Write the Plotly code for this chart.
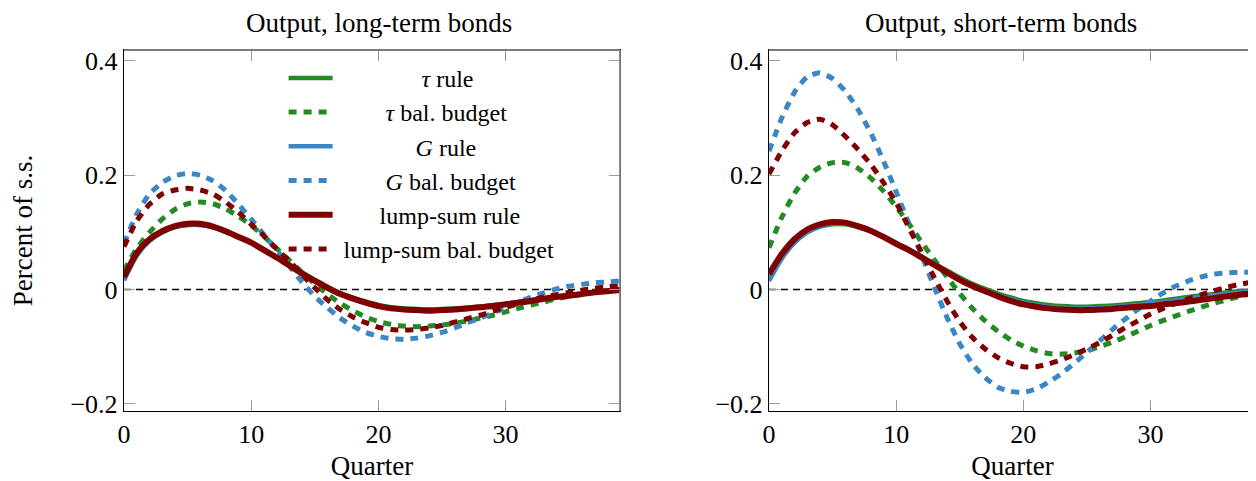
import plotly.graph_objects as go
from plotly.subplots import make_subplots

quarters = list(range(40))

series_names = ["<i>τ</i> rule", "<i>τ</i> bal. budget", "<i>G</i> rule",
                "<i>G</i> bal. budget", "lump-sum rule", "lump-sum bal. budget"]

# ---- Output, long-term bonds ----
lt_tau_rule = [0.018,0.060,0.085,0.100,0.109,0.113,0.113,0.109,0.101,0.092,0.082,0.070,0.057,0.044,0.030,0.017,0.005,-0.006,-0.014,-0.021,
               -0.027,-0.031,-0.033,-0.034,-0.035,-0.034,-0.033,-0.032,-0.030,-0.028,-0.025,-0.022,-0.019,-0.016,-0.013,-0.010,-0.007,-0.005,-0.002,0.000]
lt_tau_bb = [0.033,0.072,0.100,0.123,0.140,0.150,0.153,0.150,0.141,0.128,0.112,0.093,0.072,0.051,0.030,0.010,-0.008,-0.024,-0.037,-0.048,
             -0.056,-0.061,-0.064,-0.065,-0.064,-0.062,-0.059,-0.055,-0.050,-0.045,-0.039,-0.033,-0.027,-0.022,-0.016,-0.012,-0.008,-0.004,-0.002,0.000]
lt_g_rule = [0.016,0.059,0.085,0.100,0.109,0.113,0.113,0.109,0.101,0.092,0.082,0.070,0.057,0.043,0.029,0.016,0.004,-0.007,-0.015,-0.022,
             -0.028,-0.032,-0.034,-0.035,-0.036,-0.035,-0.034,-0.032,-0.030,-0.028,-0.025,-0.022,-0.019,-0.016,-0.013,-0.010,-0.007,-0.005,-0.003,-0.001]
lt_g_bb = [0.080,0.132,0.167,0.187,0.199,0.203,0.200,0.190,0.173,0.149,0.123,0.096,0.069,0.041,0.013,-0.012,-0.032,-0.050,-0.064,-0.075,
           -0.082,-0.086,-0.087,-0.085,-0.081,-0.075,-0.067,-0.058,-0.050,-0.041,-0.032,-0.022,-0.013,-0.006,0.001,0.006,0.009,0.012,0.013,0.015]
lt_ls_rule = [0.022,0.064,0.088,0.102,0.111,0.115,0.115,0.110,0.102,0.092,0.082,0.069,0.056,0.042,0.028,0.015,0.003,-0.008,-0.016,-0.023,
              -0.029,-0.033,-0.035,-0.036,-0.037,-0.036,-0.035,-0.033,-0.031,-0.029,-0.026,-0.023,-0.020,-0.016,-0.013,-0.011,-0.008,-0.005,-0.003,-0.001]
lt_ls_bb = [0.075,0.120,0.149,0.167,0.174,0.177,0.174,0.167,0.153,0.135,0.114,0.094,0.071,0.050,0.026,0.003,-0.018,-0.035,-0.048,-0.058,
            -0.066,-0.070,-0.071,-0.070,-0.067,-0.063,-0.057,-0.051,-0.045,-0.038,-0.031,-0.025,-0.019,-0.013,-0.009,-0.005,-0.001,0.002,0.005,0.006]

# ---- Output, short-term bonds ----
st_tau_rule = [0.018,0.055,0.082,0.100,0.110,0.114,0.114,0.109,0.102,0.092,0.081,0.070,0.058,0.045,0.033,0.021,0.010,0.001,-0.007,-0.014,
               -0.020,-0.024,-0.027,-0.029,-0.030,-0.030,-0.029,-0.028,-0.026,-0.024,-0.022,-0.019,-0.016,-0.013,-0.010,-0.008,-0.005,-0.003,-0.001,0.001]
st_tau_bb = [0.073,0.126,0.168,0.198,0.214,0.222,0.222,0.212,0.195,0.172,0.145,0.115,0.083,0.052,0.022,-0.007,-0.033,-0.055,-0.073,-0.088,
             -0.099,-0.107,-0.112,-0.113,-0.111,-0.107,-0.100,-0.092,-0.083,-0.073,-0.063,-0.054,-0.046,-0.038,-0.031,-0.024,-0.018,-0.012,-0.007,-0.003]
st_g_rule = [0.015,0.054,0.082,0.100,0.110,0.115,0.115,0.110,0.103,0.093,0.082,0.070,0.058,0.045,0.032,0.019,0.008,-0.002,-0.010,-0.017,
             -0.023,-0.027,-0.030,-0.032,-0.033,-0.033,-0.032,-0.031,-0.029,-0.027,-0.025,-0.022,-0.019,-0.016,-0.013,-0.010,-0.008,-0.005,-0.003,-0.002]
st_g_bb = [0.242,0.300,0.345,0.372,0.379,0.369,0.347,0.315,0.274,0.225,0.171,0.115,0.060,0.004,-0.049,-0.095,-0.130,-0.154,-0.171,-0.178,
           -0.180,-0.174,-0.162,-0.147,-0.129,-0.110,-0.090,-0.070,-0.052,-0.035,-0.020,-0.006,0.006,0.015,0.022,0.027,0.029,0.030,0.030,0.029]
st_ls_rule = [0.027,0.062,0.088,0.105,0.114,0.118,0.117,0.111,0.103,0.092,0.080,0.069,0.056,0.043,0.030,0.017,0.006,-0.003,-0.012,-0.020,
              -0.026,-0.030,-0.033,-0.035,-0.036,-0.036,-0.035,-0.034,-0.032,-0.030,-0.029,-0.026,-0.024,-0.021,-0.018,-0.015,-0.012,-0.009,-0.007,-0.005]
st_ls_bb = [0.202,0.242,0.274,0.292,0.298,0.288,0.268,0.245,0.219,0.187,0.152,0.108,0.065,0.021,-0.020,-0.056,-0.084,-0.104,-0.119,-0.129,
            -0.135,-0.135,-0.130,-0.123,-0.114,-0.104,-0.093,-0.080,-0.067,-0.055,-0.043,-0.033,-0.024,-0.016,-0.009,-0.002,0.004,0.009,0.013,0.016]

panel_titles = ["Output, long-term bonds", "Output, short-term bonds"]
x_title = "Quarter"
y_title = "Percent of s.s."
y_tickvals = [-0.2, 0, 0.2, 0.4]
y_ticktext = ["\u22120.2", "0", "0.2", "0.4"]
x_tickvals = [0, 10, 20, 30]

GREEN = "#238b23"
BLUE = "#3b87c6"
RED = "#800000"
colors = [GREEN, GREEN, BLUE, BLUE, RED, RED]
dashed = [False, True, False, True, False, True]
widths = [4.5, 5.0, 4.5, 5.0, 6.0, 5.0]
# centering pads for legend text (non-breaking spaces)
pads = [14, 8, 13, 8, 7, 1]

long_term = [lt_tau_rule, lt_tau_bb, lt_g_rule, lt_g_bb, lt_ls_rule, lt_ls_bb]
short_term = [st_tau_rule, st_tau_bb, st_g_rule, st_g_bb, st_ls_rule, st_ls_bb]

FONT = "Liberation Serif"

fig = make_subplots(rows=1, cols=2, subplot_titles=panel_titles)

for col, panel in ((1, long_term), (2, short_term)):
    for i, ys in enumerate(panel):
        fig.add_trace(go.Scatter(
            x=quarters, y=ys, mode="lines",
            name="\u00a0" * pads[i] + series_names[i],
            legendgroup=f"g{i}", showlegend=(col == 1),
            line=dict(color=colors[i], width=widths[i],
                      dash="8px,7px" if dashed[i] else "solid",
                      shape="spline", smoothing=0.6),
        ), row=1, col=col)
    fig.add_hline(y=0, line=dict(color="black", width=1.4, dash="7px,5px"),
                  layer="below", row=1, col=col)

axis_common = dict(showline=True, linecolor="black", linewidth=1.4,
                   ticks="inside", ticklen=11, tickwidth=1.4, tickcolor="#9a9a9a",
                   showgrid=False, zeroline=False,
                   tickfont=dict(family=FONT, size=26, color="black"))

fig.update_xaxes(**axis_common, tickvals=x_tickvals, mirror="ticks",
                 title=dict(text=x_title, font=dict(family=FONT, size=27), standoff=12))
fig.update_yaxes(**axis_common, tickvals=y_tickvals, ticktext=y_ticktext,
                 range=[-0.2125, 0.419])

fig.update_layout(
    width=1248, height=473,
    margin=dict(l=116, r=0, t=42, b=70),
    paper_bgcolor="white", plot_bgcolor="white",
    font=dict(family=FONT, size=24, color="black"),
    xaxis=dict(domain=[0, 0.4382], range=[0, 39]),
    xaxis2=dict(domain=[0.5698, 1.0], range=[0, 38.3]),
    yaxis=dict(mirror="ticks",
               title=dict(text=y_title, font=dict(family=FONT, size=27), standoff=33)),
    yaxis2=dict(mirror=False),
    showlegend=True,
    legend=dict(x=0.141, y=0.984, xanchor="left", yanchor="top",
                bgcolor="rgba(255,255,255,0)", borderwidth=0,
                font=dict(family=FONT, size=24, color="black"),
                itemwidth=44, tracegroupgap=0, traceorder="grouped"),
)

# frame: gray top/right borders like the reference
for xr, yr, right in (("x", "y", True), ("x2", "y2", False)):
    fig.add_shape(type="line", xref=f"{xr} domain", yref=f"{yr} domain",
                  x0=0, x1=1, y0=1, y1=1, line=dict(color="#7a7a7a", width=1.8), layer="above")
    if right:
        fig.add_shape(type="line", xref=f"{xr} domain", yref=f"{yr} domain",
                      x0=1, x1=1, y0=0, y1=1, line=dict(color="#7a7a7a", width=1.8), layer="above")

for ann in fig.layout.annotations:
    ann.font = dict(family=FONT, size=27, color="black")
    ann.yshift = 10

fig.write_html("out.html")
